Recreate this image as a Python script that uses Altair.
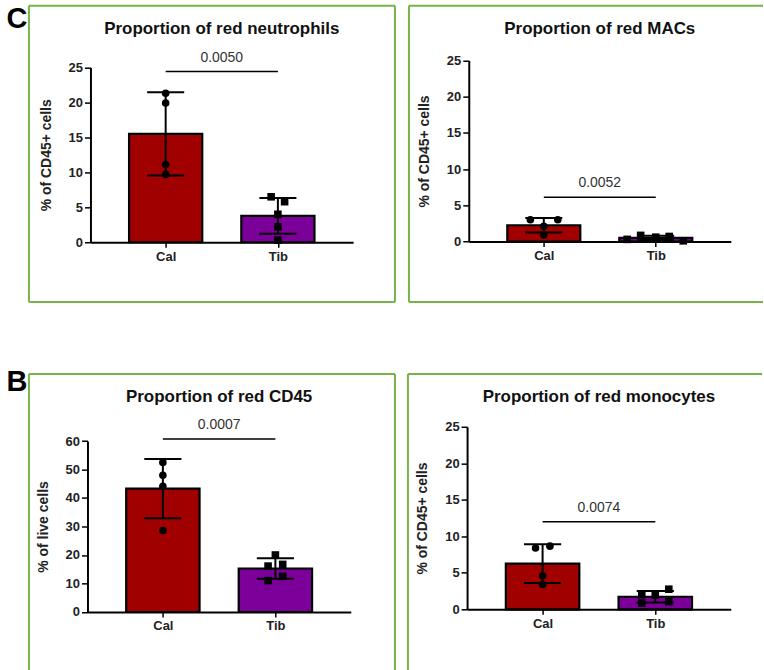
import altair as alt
import pandas as pd

groups = ["Cal", "Tib"]
bar_colors = ["#A00000", "#7B0099"]
point_shapes = ["circle", "square"]

# ---- values ----
neut_cal = [21.3, 19.9, 11.1, 9.7]
neut_tib = [6.5, 5.8, 4.0, 2.2, 0.3]
mac_cal = [3.0, 3.0, 2.1, 0.9]
mac_tib = [0.3, 0.85, 0.6, 0.7, 0.1]
cd45_cal = [52.5, 48.0, 44.1, 28.6]
cd45_tib = [20.0, 16.1, 16.7, 11.0, 12.5]
mono_cal = [8.4, 8.65, 4.6, 3.4]
mono_tib = [2.75, 1.95, 2.0, 0.85, 1.05]

# horizontal scatter of the dots (fraction of category step)
neut_cal_off = [0, 0, 0, 0]
neut_tib_off = [-0.06, 0.06, 0, 0, 0]
mac_cal_off = [-0.12, 0.125, 0, 0]
mac_tib_off = [-0.255, -0.135, 0, 0.12, 0.245]
cd45_cal_off = [0, 0, 0, 0]
cd45_tib_off = [0, -0.065, 0.065, -0.065, 0.065]
mono_cal_off = [-0.0625, 0.065, 0, 0]
mono_tib_off = [0.12, 0, -0.12, -0.12, 0.12]

titles = ["Proportion of red neutrophils", "Proportion of red MACs",
          "Proportion of red CD45", "Proportion of red monocytes"]
ylabels = ["% of CD45+ cells", "% of CD45+ cells", "% of live cells", "% of CD45+ cells"]
pvalues = ["0.0050", "0.0052", "0.0007", "0.0074"]
sig_heights = [24.4, 6.1, 60.7, 12.0]
y_max = [25, 25, 60, 25]
y_step = [5, 5, 10, 5]

FONT = "Liberation Sans"
GREEN = "#76B34A"


def panel(cal, tib, cal_off, tib_off, title, ylabel, pval, sig, ymax, ystep,
          w, h, axl, axr, y0, ytop, edges, letter=None, letter_y=10):
    df = pd.DataFrame({
        "idx": [0] * len(cal) + [1] * len(tib),
        "grp": [groups[0]] * len(cal) + [groups[1]] * len(tib),
        "val": cal + tib,
        "off": cal_off + tib_off,
    })
    xs = alt.Scale(domain=[-0.67, 1.67], range=[axl, axr], nice=False, zero=False)
    ys = alt.Scale(domain=[0, ymax], range=[y0, ytop], nice=False)
    xaxis = alt.Axis(
        values=[0, 1],
        labelExpr="['%s','%s'][datum.value]" % (groups[0], groups[1]),
        title=None, grid=False, offset=-(h - y0),
        domainColor="black", domainWidth=2, tickColor="black", tickWidth=1.5,
        tickSize=5, labelFont=FONT, labelFontWeight="bold", labelFontSize=13,
        labelColor="#222", labelPadding=3,
    )
    yaxis = alt.Axis(
        values=list(range(0, ymax + 1, ystep)), title=ylabel, grid=False,
        offset=-axl, domainColor="black", domainWidth=2, tickColor="black",
        tickWidth=1.5, tickSize=6, labelFont=FONT, labelFontWeight="bold",
        labelFontSize=13, labelColor="#222", labelPadding=2,
        titleFont=FONT, titleFontWeight="bold", titleFontSize=14,
        titleColor="#222", titlePadding=15,
    )

    def X(f):
        return alt.X(f, type="quantitative", scale=xs, axis=xaxis)

    def Y(f):
        return alt.Y(f, type="quantitative", scale=ys, axis=yaxis)

    base = alt.Chart(df)
    stats = base.transform_aggregate(
        m="mean(val)", s="stdev(val)", groupby=["idx", "grp"]
    ).transform_calculate(
        lo="datum.m - datum.s", hi="datum.m + datum.s",
        xl="datum.idx - 0.326", xr="datum.idx + 0.326",
        cl="datum.idx - 0.165", cr="datum.idx + 0.165", z="0",
    )
    bars = stats.mark_bar(stroke="black", strokeWidth=2.2).encode(
        x=X("xl"), x2="xr", y=Y("m"), y2="z:Q",
        color=alt.Color("grp:N", scale=alt.Scale(domain=groups, range=bar_colors), legend=None),
    )
    err = stats.mark_rule(color="black", strokeWidth=2).encode(x=X("idx"), y=Y("lo"), y2="hi")
    cap_hi = stats.mark_rule(color="black", strokeWidth=2).encode(x=X("cl"), x2="cr", y=Y("hi"))
    cap_lo = stats.mark_rule(color="black", strokeWidth=2).encode(x=X("cl"), x2="cr", y=Y("lo"))
    pts = base.transform_calculate(px="datum.idx + datum.off").mark_point(
        filled=True, opacity=1, color="black", size=58
    ).encode(
        x=X("px"), y=Y("val"),
        shape=alt.Shape("grp:N", scale=alt.Scale(domain=groups, range=point_shapes), legend=None),
    )
    sdf = pd.DataFrame({"a": [0], "b": [1], "mid": [0.5], "y": [sig], "p": [pval], "t": [title]})
    sbase = alt.Chart(sdf)
    sig_line = sbase.mark_rule(color="black", strokeWidth=1.5).encode(x=X("a"), x2="b", y=Y("y"))
    sig_txt = sbase.mark_text(font=FONT, fontSize=14, color="#333", dy=-14).encode(
        x=X("mid"), y=Y("y"), text="p:N")
    ttl = sbase.mark_text(font=FONT, fontSize=17, fontWeight="bold", color="#111").encode(
        x=X("mid"), y=alt.value(23), text="t:N")

    # green frame (edges cut by the page are not drawn)
    one = alt.Chart(pd.DataFrame({"k": [0]}))
    frame = []
    edge_enc = {
        "top": dict(x=alt.value(0), x2=alt.value(w), y=alt.value(0)),
        "bottom": dict(x=alt.value(0), x2=alt.value(w), y=alt.value(h)),
        "left": dict(x=alt.value(0), y=alt.value(0), y2=alt.value(h)),
        "right": dict(x=alt.value(w), y=alt.value(0), y2=alt.value(h)),
    }
    for e in edges:
        frame.append(one.mark_rule(color=GREEN, strokeWidth=2).encode(**edge_enc[e]))

    layers = frame + [bars, err, cap_hi, cap_lo, pts, sig_line, sig_txt, ttl]
    if letter:
        ldf = pd.DataFrame({"L": [letter]})
        layers.append(alt.Chart(ldf).mark_text(
            font=FONT, fontSize=29, fontWeight="bold", color="black"
        ).encode(x=alt.value(-12), y=alt.value(letter_y), text="L:N"))
    return alt.layer(*layers).properties(width=w, height=h)


p1 = panel(neut_cal, neut_tib, neut_cal_off, neut_tib_off, titles[0], ylabels[0], pvalues[0],
           sig_heights[0], y_max[0], y_step[0], 367, 297, 61.7, 325, 237, 61.7,
           ["top", "bottom", "left", "right"], letter="C", letter_y=13)
p2 = panel(mac_cal, mac_tib, mac_cal_off, mac_tib_off, titles[1], ylabels[1], pvalues[1],
           sig_heights[1], y_max[1], y_step[1], 355, 297, 60, 322.7, 236.3, 54.7,
           ["top", "bottom", "left"])
p3 = panel(cd45_cal, cd45_tib, cd45_cal_off, cd45_tib_off, titles[2], ylabels[2], pvalues[2],
           sig_heights[2], y_max[2], y_step[2], 367, 297, 58.7, 322.7, 238.7, 67.3,
           ["top", "left", "right"], letter="B", letter_y=8)
p4 = panel(mono_cal, mono_tib, mono_cal_off, mono_tib_off, titles[3], ylabels[3], pvalues[3],
           sig_heights[3], y_max[3], y_step[3], 355, 297, 59.3, 323.7, 236, 53,
           ["top", "left"])

chart = alt.vconcat(
    alt.hconcat(p1, p2, spacing=12),
    alt.hconcat(p3, p4, spacing=11),
    spacing=65,
).properties(
    padding={"left": 6, "top": 4, "right": 0, "bottom": 0},
    background="white",
).configure_view(strokeWidth=0)

chart.save("out.html", embed_options={"renderer": "svg", "actions": False})
